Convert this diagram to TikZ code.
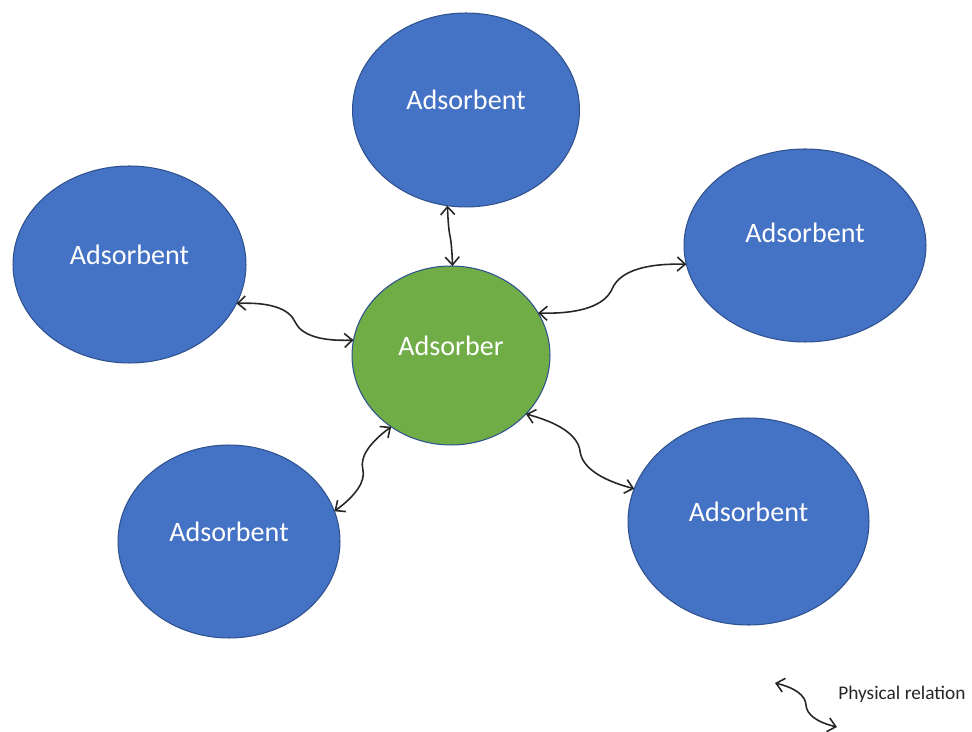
\documentclass[tikz,border=0pt]{standalone}
\usepackage{fontspec}
\setmainfont{Carlito}
\usetikzlibrary{shapes.geometric,arrows.meta,calc}

\definecolor{bentblue}{HTML}{4472C4}
\definecolor{berblue}{HTML}{70AD47}
\definecolor{rimblue}{HTML}{2F528F}
\definecolor{inkgray}{HTML}{262626}

\tikzset{
  blob/.style={ellipse, draw=rimblue, line width=0.6pt, inner sep=0pt, outer sep=0pt},
  sorbent/.style={blob, fill=bentblue},
  sorber/.style={blob, fill=berblue},
  lbl/.style={text=white, font=\fontsize{16}{19}\selectfont, inner sep=0pt},
  legendtxt/.style={text=inkgray, font=\fontsize{11}{13}\selectfont, inner sep=0pt},
  rel/.style={draw=inkgray, line width=0.9pt,
    {Straight Barb[length=4.5pt,width=8pt]}-{Straight Barb[length=4.5pt,width=8pt]}}
}

% S-shaped double arrow from #1 to #2; #3 is the signed swing of the wave
\newcommand\relconn[3]{%
  \pgfmathsetmacro\ra{veclen(0.25,#3)}\pgfmathsetmacro\aa{-atan2(#3,0.25)}%
  \pgfmathsetmacro\rb{veclen(0.42,#3)}\pgfmathsetmacro\ab{-atan2(#3,0.42)}%
  \pgfmathsetmacro\rc{veclen(0.58,#3)}\pgfmathsetmacro\ac{atan2(#3,0.58)}%
  \pgfmathsetmacro\rd{veclen(0.75,#3)}\pgfmathsetmacro\ad{atan2(#3,0.75)}%
  \draw[rel] (#1) .. controls ($(#1)!\ra!\aa:(#2)$) and ($(#1)!\rb!\ab:(#2)$) ..
    ($(#1)!0.5!(#2)$) .. controls ($(#1)!\rc!\ac:(#2)$) and ($(#1)!\rd!\ad:(#2)$) .. (#2);%
}

\begin{document}
\begin{tikzpicture}[x=0.02cm, y=-0.02cm]
  \useasboundingbox (0,0) rectangle (972,732);

  % central adsorber and the surrounding adsorbents
  \node[sorber,  minimum width=3.96cm, minimum height=3.58cm] (core) at (451,355.5) {};
  \node[sorbent, minimum width=4.54cm, minimum height=3.88cm] (top)  at (466,110) {};
  \node[sorbent, minimum width=4.66cm, minimum height=3.94cm] (left) at (129.5,264.5) {};
  \node[sorbent, minimum width=4.84cm, minimum height=3.86cm] (right) at (805,245.5) {};
  \node[sorbent, minimum width=4.44cm, minimum height=3.86cm] (bl)   at (229,541.5) {};
  \node[sorbent, minimum width=4.82cm, minimum height=4.14cm] (br)   at (748.5,521.5) {};

  \node[lbl] (tcore)  at ([yshift=0.19cm]core.center)  {Adsorber};
  \node[lbl] (ttop)   at ([yshift=0.21cm]top.center)   {Adsorbent};
  \node[lbl] (tleft)  at ([yshift=0.20cm]left.center)  {Adsorbent};
  \node[lbl] (tright) at ([yshift=0.25cm]right.center) {Adsorbent};
  \node[lbl] (tbl)    at ([yshift=0.20cm]bl.center)    {Adsorbent};
  \node[lbl] (tbr)    at ([yshift=0.20cm]br.center)    {Adsorbent};

  % physical relations
  \relconn{top.-101}{core.89.3}{0.012}
  \relconn{left.-20.2}{core.171}{-0.09}
  \relconn{core.26}{right.189.5}{0.09}
  \relconn{core.230.4}{bl.16.5}{0.09}
  \relconn{core.-38.8}{br.164.1}{-0.09}

  % legend
  \coordinate (la) at (775,683);
  \coordinate (lb) at (837,727);
  \relconn{la}{lb}{-0.1}
  \node[legendtxt, anchor=west] (ltext) at (838,694) {Physical relation};
\end{tikzpicture}
\end{document}
